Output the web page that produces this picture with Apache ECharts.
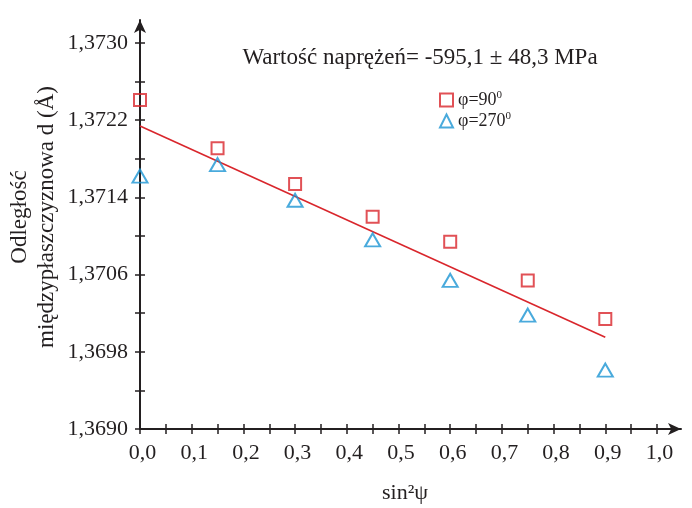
<!DOCTYPE html>
<html>
<head>
<meta charset="utf-8">
<script src="https://cdn.jsdelivr.net/npm/echarts@6/dist/echarts.min.js"></script>
<style>
html,body{margin:0;padding:0;background:#fff;}
#chart{width:692px;height:508px;}
</style>
</head>
<body>
<div id="chart"></div>
<script>
// ---- data ----
var sin2psi = [0, 0.15, 0.3, 0.45, 0.6, 0.75, 0.9];
var d_phi90 = [1.37241, 1.37191, 1.37154, 1.37120, 1.37094, 1.37054, 1.37014];
var d_phi270 = [1.37162, 1.37174, 1.37137, 1.37096, 1.37054, 1.37018, 1.36961];
var fitX = [0, 0.9];
var fitY = [1.37214, 1.36995];
var seriesNames = ['φ=90', 'φ=270'];
var titleText = 'Wartość naprężeń= -595,1 ± 48,3 MPa';
var yName = 'Odległość\nmiędzypłaszczyznowa d (Å)';

var FONT = "'Liberation Serif','Times New Roman',serif";
var INK = '#231f20';
var RED = '#d9262c';
var BLUE = '#1b95d3';

function zip(a, b) { return a.map(function (v, i) { return [v, b[i]]; }); }

var gridA = { left: 140, top: 43, width: 517, height: 386 };
var gridB = { left: 140, top: 20, width: 541, height: 409 };

function xAxisA(inside) {
  return {
    type: 'value', gridIndex: 0, position: 'bottom', offset: 0,
    min: 0, max: 1.0, interval: 0.1,
    axisLine: { show: false },
    splitLine: { show: false },
    axisTick: { show: true, inside: inside, length: 5, lineStyle: { color: INK, width: 1.5 } },
    minorTick: { show: true, splitNumber: 2, length: 5, lineStyle: { color: INK, width: 1.5 } },
    axisLabel: {
      show: !inside, margin: 13, color: INK, fontFamily: FONT, fontSize: 22,
      padding: [0, 0, 0, 5],
      formatter: function (v) { return v.toFixed(1).replace('.', ','); }
    }
  };
}
function yAxisA(inside) {
  return {
    type: 'value', gridIndex: 0, position: 'left', offset: 0,
    min: 1.3690, max: 1.3730, interval: 0.0008,
    axisLine: { show: false },
    splitLine: { show: false },
    axisTick: { show: true, inside: inside, length: 5, lineStyle: { color: INK, width: 1.5 } },
    minorTick: { show: true, splitNumber: 2, length: 5, lineStyle: { color: INK, width: 1.5 } },
    axisLabel: {
      show: !inside, margin: 12, color: INK, fontFamily: FONT, fontSize: 22,
      formatter: function (v) { return v.toFixed(4).replace('.', ','); }
    }
  };
}
function arrowAxis(pos) {
  return {
    type: 'value', gridIndex: 1, position: pos, offset: 0, min: 0, max: 1,
    axisLine: { show: true, symbol: ['none', 'arrow'], symbolSize: [9, 13],
      lineStyle: { color: INK, width: 2 } },
    axisTick: { show: false }, axisLabel: { show: false }, splitLine: { show: false }
  };
}

var chart = echarts.init(document.getElementById('chart'), null, { renderer: 'canvas' });
chart.setOption({
  animation: false,
  backgroundColor: '#fff',
  grid: [gridA, gridB],
  xAxis: [xAxisA(false), xAxisA(true), arrowAxis('bottom')],
  yAxis: [yAxisA(false), yAxisA(true), arrowAxis('left')],
  legend: {
    data: seriesNames,
    orient: 'vertical', left: 439, top: 90, padding: 0,
    itemWidth: 13, itemHeight: 13, itemGap: 2,
    formatter: function (name) { return '{a|' + name + '}{s|0}'; },
    textStyle: {
      color: INK,
      rich: {
        a: { fontFamily: FONT, fontSize: 18, color: INK },
        s: { fontFamily: FONT, fontSize: 11, color: INK, padding: [0, 0, 9, 0] }
      }
    }
  },
  graphic: [
    { type: 'text', x: 420, y: 58, style: { text: titleText, font: '23px ' + FONT, fill: INK, align: 'center', verticalAlign: 'middle' } },
    { type: 'text', x: 33, y: 217, rotation: Math.PI / 2,
      style: { text: yName, font: '23px ' + FONT, fill: INK, align: 'center', verticalAlign: 'middle', lineHeight: 27 } },
    { type: 'text', x: 405, y: 493, style: { text: 'sin²ψ', font: '22px ' + FONT, fill: INK, align: 'center', verticalAlign: 'middle' } }
  ],
  series: [
    { name: 'fit', type: 'line', xAxisIndex: 0, yAxisIndex: 0, data: zip(fitX, fitY),
      showSymbol: false, lineStyle: { color: RED, width: 1.6 }, z: 1, silent: true },
    { name: seriesNames[0], type: 'scatter', xAxisIndex: 0, yAxisIndex: 0, data: zip(sin2psi, d_phi90),
      symbol: 'rect', symbolSize: 12, z: 3,
      itemStyle: { color: 'rgba(255,255,255,0)', borderColor: RED, borderWidth: 2 } },
    { name: seriesNames[1], type: 'scatter', xAxisIndex: 0, yAxisIndex: 0, data: zip(sin2psi, d_phi270),
      symbol: 'triangle', symbolSize: [15, 13], z: 3,
      itemStyle: { color: 'rgba(255,255,255,0)', borderColor: BLUE, borderWidth: 2 } }
  ]
});
</script>
</body>
</html>
